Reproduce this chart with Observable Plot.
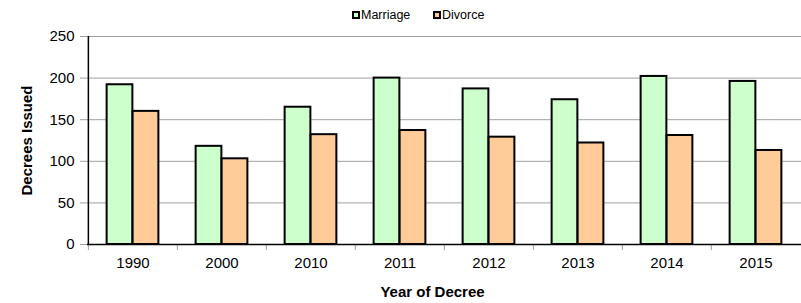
<!DOCTYPE html>
<html><head><meta charset="utf-8">
<script src="https://cdn.jsdelivr.net/npm/d3@7"></script>
<script src="https://cdn.jsdelivr.net/npm/@observablehq/plot@0.6"></script>
<style>
body{margin:0;background:#fff;font-family:"Liberation Sans",Arial,sans-serif;}
#legend{position:relative;height:28px;width:801px;font-size:12.5px;color:#000;}
.item{position:absolute;top:8px;display:flex;align-items:center;line-height:14px;}
.sw{width:4px;height:4px;border:2px solid #000;margin-right:1px;}
</style></head><body>
<div id="legend"></div><div id="chart"></div>
<script>
const years = ["1990","2000","2010","2011","2012","2013","2014","2015"];
const marriage = [192,118,165,200,187,174,202,196];
const divorce = [160,103,132,137,129,122,131,113];
const seriesNames = ["Marriage","Divorce"];
const seriesColors = ["#CCFFCC","#FFCC99"];
const yTicks = [0,50,100,150,200,250];
const yTitle = "Decrees Issued";
const xTitle = "Year of Decree";

const legendLefts = [352, 433];
const legend = document.getElementById("legend");
seriesNames.forEach((n,i)=>{
  const it = document.createElement("div");
  it.className="item"; it.style.left = legendLefts[i]+"px";
  const sw = document.createElement("span"); sw.className="sw"; sw.style.background=seriesColors[i];
  const tx = document.createElement("span"); tx.textContent=n;
  it.appendChild(sw); it.appendChild(tx); legend.appendChild(it);
});

const W=801,H=275,mL=87,mR=0,mT=8,mB=59;
const band=(W-mL-mR)/years.length;
const half=band/2, barW=26;
const rows = years.map((y,i)=>({year:y, marriage:marriage[i], divorce:divorce[i]}));
const font = '"Liberation Sans", Arial, sans-serif';
const plot = Plot.plot({
  width:W,height:H,marginLeft:mL,marginRight:mR,marginTop:mT,marginBottom:mB,
  style:{fontFamily:font,fontSize:"15px",color:"#000",background:"#fff"},
  x:{domain:years,padding:0},
  y:{domain:[0,250]},
  marks:[
    Plot.gridY(yTicks,{stroke:"#a0a0a0",strokeOpacity:1}),
    Plot.axisY(yTicks,{tickSize:7,tickPadding:6,stroke:"#a0a0a0",fill:"#000",label:null,fontSize:15}),
    Plot.axisX({tickSize:6,tickFormat:()=>"",dx:-half,stroke:"#a0a0a0",label:null}),
    Plot.axisX({tickSize:0,tickPadding:13,label:null,fill:"#000",fontSize:15}),
    Plot.barY(rows,{x:"year",y:"marriage",fill:seriesColors[0],stroke:"#000",strokeWidth:2,insetLeft:half-barW,insetRight:half}),
    Plot.barY(rows,{x:"year",y:"divorce",fill:seriesColors[1],stroke:"#000",strokeWidth:2,insetLeft:half,insetRight:half-barW}),
    Plot.ruleY([0],{stroke:"#000",strokeWidth:1.5}),
    Plot.ruleX([years[0]],{x:d=>d,y1:0,y2:250,dx:-half,stroke:"#000",strokeWidth:1.5}),
    Plot.text([yTitle],{frameAnchor:"left",dx:-60,rotate:-90,textAnchor:"middle",lineAnchor:"middle",fontWeight:"bold",fontSize:15,fill:"#000"}),
    Plot.text([xTitle],{frameAnchor:"bottom",dx:-12,dy:48,textAnchor:"middle",lineAnchor:"middle",fontWeight:"bold",fontSize:15,fill:"#000"})
  ]
});
document.getElementById("chart").appendChild(plot);
</script>
</body></html>
